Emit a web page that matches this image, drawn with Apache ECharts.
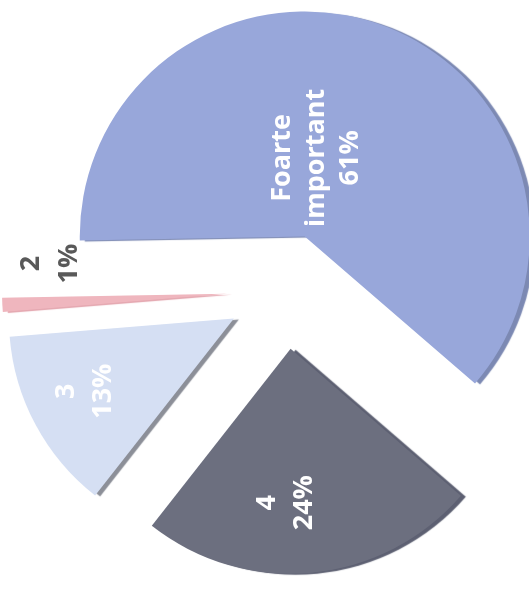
<!DOCTYPE html>
<html>
<head>
<meta charset="utf-8">
<title>Foarte important</title>
<script src="https://cdn.jsdelivr.net/npm/echarts@6/dist/echarts.min.js"></script>
<style>
  html, body { margin: 0; padding: 0; background: #ffffff; }
  #chart { width: 529px; height: 590px; }
</style>
</head>
<body>
<div id="chart"></div>
<script>
// Answer categories and their shares (percent)
const categories = ['Foarte important', '4', '3', '2'];
const values = [61, 24, 13, 1];

// Slice fills and the darker tone used for each slice's side rim
const sliceColors = ['#98a7da', '#6c6f7f', '#d5dff3', '#efb6be'];
const rimColors = ['#7c89b3', '#5d6072', '#8c8f98', '#e3a4ad'];
const labelColors = ['#ffffff', '#ffffff', '#ffffff', '#595959'];
const labelLineHeights = [34, 37, 37, 38];
// Screen-space nudges [right, down] for each label, from its default inside spot
const labelShift = [[-28, 30], [-16, 39], [-47, 18], [-61, -36]];

const chart = echarts.init(document.getElementById('chart'), null, { renderer: 'canvas' });

const data = categories.map((name, i) => ({
  name: name,
  value: values[i],
  selected: true,
  itemStyle: {
    color: sliceColors[i],
    shadowColor: rimColors[i],
    shadowBlur: 1,
    shadowOffsetX: 5,
    shadowOffsetY: 1
  },
  label: {
    color: labelColors[i],
    lineHeight: labelLineHeights[i]
  }
}));

chart.setOption({
  backgroundColor: '#ffffff',
  animation: false,
  series: [{
    type: 'pie',
    center: [285, 291],
    radius: [0, 225],
    startAngle: 181,
    clockwise: true,
    selectedMode: 'multiple',
    selectedOffset: 58,
    avoidLabelOverlap: false,
    emphasis: { disabled: true },
    labelLine: { show: false },
    label: {
      show: true,
      position: 'inside',
      rotate: 90,
      fontFamily: '"Open Sans", "Noto Sans", sans-serif',
      fontWeight: 'bold',
      fontSize: 27,
      formatter: function (p) {
        return p.name.replace(' ', '\n') + '\n' + p.value + '%';
      }
    },
    // Labels are turned a quarter turn, so their dx/dy act along the turned axes:
    // local x points up the page, local y points right.
    labelLayout: function (p) {
      const s = labelShift[p.dataIndex];
      return { dx: -s[1], dy: s[0] };
    },
    data: data
  }]
});
</script>
</body>
</html>
